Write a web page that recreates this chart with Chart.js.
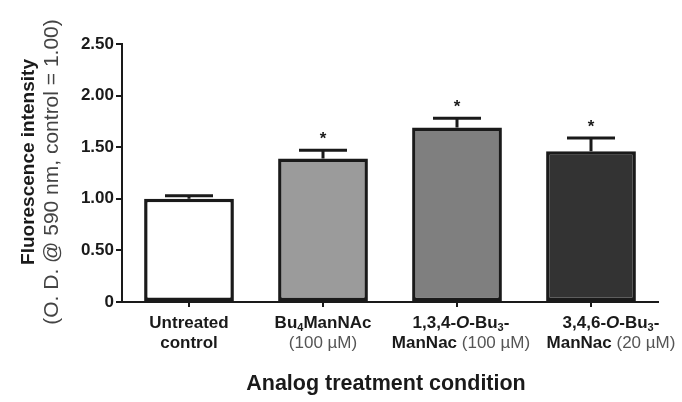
<!DOCTYPE html>
<html><head><meta charset="utf-8">
<script src="https://cdn.jsdelivr.net/npm/chart.js@4/dist/chart.umd.min.js"></script>
<style>html,body{margin:0;padding:0;background:#fff}#wrap{width:682px;height:402px}</style>
</head><body><div id="wrap"><canvas id="c" width="682" height="402"></canvas></div>
<script>
const categories = ["Untreated control","Bu4ManNAc (100 µM)","1,3,4-O-Bu3-ManNac (100 µM)","3,4,6-O-Bu3-ManNac (20 µM)"];
const values = [1.00, 1.39, 1.69, 1.46];
const errors = [0.03, 0.08, 0.09, 0.13];
const significant = [false, true, true, true];
const barColors = ["#ffffff", "#9b9b9b", "#7f7f7f", "#333333"];
const yTicks = [0, 0.5, 1.0, 1.5, 2.0, 2.5];
// rich label runs: [text, style] where style: b=bold, n=normal, bi=bold italic, sub=bold subscript
const labelLines = [
  [[["Untreated","b"]],[["control","b"]]],
  [[["Bu","b"],["4","sub"],["ManNAc","b"]],[["(100 µM)","n"]]],
  [[["1,3,4-","b"],["O","bi"],["-Bu","b"],["3","sub"],["-","b"]],[["ManNac","b"],[" (100 µM)","n"]]],
  [[["3,4,6-","b"],["O","bi"],["-Bu","b"],["3","sub"],["-","b"]],[["ManNac","b"],[" (20 µM)","n"]]]
];
const FAM = "'Liberation Sans', Arial, sans-serif";
const INK = "#1a1a1a";

function fontFor(st){
  if(st==="b") return "bold 17px "+FAM;
  if(st==="bi") return "italic bold 17px "+FAM;
  if(st==="sub") return "bold 11px "+FAM;
  return "17px "+FAM;
}

const overlay = {
  id:"overlay",
  afterDatasetsDraw(chart){
    const ctx = chart.ctx, x = chart.scales.x, y = chart.scales.y;
    const labelShift = [0, 0, 4, 20];
    ctx.save();
    // error bars (upper only)
    ctx.strokeStyle = INK; ctx.lineWidth = 3;
    values.forEach((v,i)=>{
      const cx = x.getPixelForValue(i);
      const y0 = y.getPixelForValue(v), y1 = y.getPixelForValue(v+errors[i]);
      ctx.beginPath(); ctx.moveTo(cx,y0); ctx.lineTo(cx,y1);
      ctx.moveTo(cx-24,y1); ctx.lineTo(cx+24,y1); ctx.stroke();
      if(significant[i]){
        ctx.fillStyle = INK; ctx.font = "bold 17px "+FAM;
        ctx.textAlign="center"; ctx.textBaseline="middle";
        ctx.fillText("*", cx, y1-11);
      }
    });
    // x labels
    labelLines.forEach((lines,i)=>{
      const cx = x.getPixelForValue(i) + labelShift[i];
      lines.forEach((runs,li)=>{
        let w=0;
        runs.forEach(([t,s])=>{ctx.font=fontFor(s); w+=ctx.measureText(t).width;});
        let px = cx - w/2;
        const by = 328 + li*20;
        runs.forEach(([t,s])=>{
          ctx.font=fontFor(s); ctx.textAlign="left"; ctx.textBaseline="alphabetic";
          ctx.fillStyle = s==="n" ? "#555" : INK;
          ctx.fillText(t, px, s==="sub" ? by+3 : by);
          px += ctx.measureText(t).width;
        });
      });
    });
    // x title
    ctx.fillStyle = INK; ctx.font = "bold 21.5px "+FAM; ctx.textAlign="center"; ctx.textBaseline="middle";
    ctx.fillText("Analog treatment condition", 386, 384);
    // y titles
    ctx.save();
    ctx.translate(29, 162); ctx.rotate(-Math.PI/2);
    ctx.font = "bold 19px "+FAM; ctx.fillStyle = INK; ctx.textAlign="center"; ctx.textBaseline="middle";
    ctx.fillText("Fluorescence intensity", 0, 0);
    ctx.restore();
    ctx.save();
    ctx.translate(52, 172); ctx.rotate(-Math.PI/2);
    ctx.font = "21px "+FAM; ctx.fillStyle = "#444"; ctx.textAlign="center"; ctx.textBaseline="middle";
    ctx.fillText("(O. D. @ 590 nm, control = 1.00)", 0, 0);
    ctx.restore();
    ctx.restore();
  }
};

new Chart(document.getElementById("c"), {
  type: "bar",
  data: {
    labels: categories,
    datasets: [{
      data: values,
      backgroundColor: barColors,
      borderColor: INK,
      borderWidth: 3.5,
      borderSkipped: false,
      categoryPercentage: 1.0,
      barPercentage: 0.67
    }]
  },
  options: {
    responsive: false,
    animation: false,
    devicePixelRatio: 1,
    layout: { padding: { top: 44, right: 24, left: 0, bottom: 0 } },
    plugins: { legend: { display: false }, tooltip: { enabled: false } },
    scales: {
      x: {
        grid: { display: true, offset: false, drawOnChartArea: false, drawTicks: true, tickLength: 5, color: INK, lineWidth: 2 },
        border: { display: true, color: INK, width: 2 },
        ticks: { display: true, callback: () => "", font: { size: 1 } },
        afterFit(s){ s.height = 100; }
      },
      y: {
        min: 0, max: 2.5,
        afterBuildTicks(s){ s.ticks = yTicks.map(v=>({value:v})); },
        grid: { display: true, drawOnChartArea: false, drawTicks: true, tickLength: 6, color: INK, lineWidth: 2 },
        border: { display: true, color: INK, width: 2 },
        ticks: {
          color: INK, padding: 2,
          font: { family: FAM, size: 17, weight: "bold" },
          callback: v => v === 0 ? "0" : Number(v).toFixed(2)
        },
        afterFit(s){ s.width = 122; }
      }
    }
  },
  plugins: [overlay]
});
</script></body></html>
